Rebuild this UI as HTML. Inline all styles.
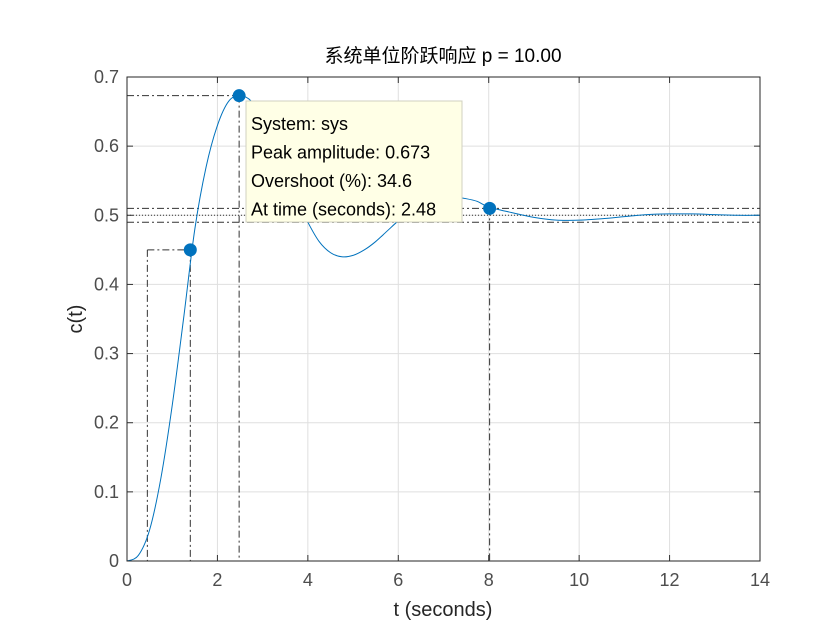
<!DOCTYPE html>
<html><head><meta charset="utf-8"><style>
body{margin:0;background:#fff;}
svg text{font-family:"Liberation Sans","Noto Sans CJK SC",sans-serif;}
</style></head><body>
<svg id="c" width="840" height="630"></svg>
<script>
const times=[0,0.25,0.5,0.75,1,1.25,1.5,1.75,2,2.25,2.5,2.75,3,3.25,3.5,3.75,4,4.25,4.5,4.75,5,5.25,5.5,5.75,6,6.25,6.5,6.75,7,7.25,7.5,7.75,8,8.5,9,9.5,10,10.5,11,11.5,12,12.5,13,13.5,14];
const values=[0,0.008,0.045,0.12,0.225,0.35,0.48,0.57,0.63,0.665,0.673,0.665,0.64,0.605,0.565,0.525,0.49,0.462,0.446,0.44,0.442,0.45,0.462,0.477,0.492,0.505,0.515,0.522,0.525,0.526,0.524,0.52,0.512,0.504,0.497,0.493,0.493,0.495,0.498,0.501,0.502,0.502,0.501,0.5,0.5];
const xTicks=[0,2,4,6,8,10,12,14];
const yTicks=[0,0.1,0.2,0.3,0.4,0.5,0.6,0.7];
const peak=[2.48,0.673];
const rise=[[0.45,0.45],[1.4,0.45]];
const settle=[8.02,0.51];
const finalVal=0.5;
const L=127,R=760,T=77,B=561;
const X=t=>L+(t/14)*(R-L), Y=v=>B-(v/0.7)*(B-T);
const svg=document.getElementById('c');
const NS='http://www.w3.org/2000/svg';
function mk(tag,a,txt){const e=document.createElementNS(NS,tag);for(const k in a)e.setAttribute(k,a[k]);if(txt!=null)e.textContent=txt;svg.appendChild(e);return e;}
let e;
e=mk('rect',{x:L,y:T,width:R-L,height:B-T,fill:'#fff',stroke:'none'});


xTicks.forEach(t=>{
 e=mk('line',{x1:X(t),x2:X(t),y1:T,y2:B,stroke:'#dfdfdf'});
 
 
 e=mk('text',{x:X(t),y:B+25,'text-anchor':'middle','font-size':18,fill:'#4d4d4d'},String(t));
 
 
 mk('line',{x1:X(t),x2:X(t),y1:B,y2:B-6,stroke:'#333'});mk('line',{x1:X(t),x2:X(t),y1:T,y2:T+6,stroke:'#333'});
});
yTicks.forEach(v=>{
 e=mk('line',{x1:L,x2:R,y1:Y(v),y2:Y(v),stroke:'#dfdfdf'});
 
 
 e=mk('text',{x:L-8,y:Y(v)+6,'text-anchor':'end','font-size':18,fill:'#4d4d4d'},String(v));
 
 
 mk('line',{x1:L,x2:L+6,y1:Y(v),y2:Y(v),stroke:'#333'});mk('line',{x1:R,x2:R-6,y1:Y(v),y2:Y(v),stroke:'#333'});
});
const dd={stroke:'#333','stroke-dasharray':'7,3,2,3','stroke-width':1,fill:'none'};
function ref(a,name){e=mk('line',Object.assign({},dd,a));}
ref({x1:L,x2:R,y1:Y(0.51),y2:Y(0.51)},'settle-upper-line');
ref({x1:L,x2:R,y1:Y(0.49),y2:Y(0.49)},'settle-lower-line');
e=mk('line',{x1:L,x2:R,y1:Y(finalVal),y2:Y(finalVal),stroke:'#333','stroke-dasharray':'1,2'});


ref({x1:L,x2:X(peak[0]),y1:Y(peak[1]),y2:Y(peak[1])},'peak-h-line');
ref({x1:X(peak[0]),x2:X(peak[0]),y1:Y(peak[1]),y2:B},'peak-v-line');
ref({x1:X(rise[0][0]),x2:X(rise[1][0]),y1:Y(rise[1][1]),y2:Y(rise[1][1])},'rise-h-line');
ref({x1:X(rise[0][0]),x2:X(rise[0][0]),y1:Y(rise[0][1]),y2:B},'rise-start-line');
ref({x1:X(rise[1][0]),x2:X(rise[1][0]),y1:Y(rise[1][1]),y2:B},'rise-end-line');
ref({x1:X(settle[0]),x2:X(settle[0]),y1:Y(settle[1]),y2:B},'settle-v-line');
const P=times.map((t,i)=>[X(t),Y(values[i])]);
let d='M'+P[0][0]+','+P[0][1];
for(let i=0;i<P.length-1;i++){const p0=P[Math.max(0,i-1)],p1=P[i],p2=P[i+1],p3=P[Math.min(P.length-1,i+2)];
 d+=` C${p1[0]+(p2[0]-p0[0])/6},${p1[1]+(p2[1]-p0[1])/6} ${p2[0]-(p3[0]-p1[0])/6},${p2[1]-(p3[1]-p1[1])/6} ${p2[0]},${p2[1]}`;}
e=mk('path',{d:d,fill:'none',stroke:'#0072bd','stroke-width':1});


[[peak[0],peak[1]],rise[1],settle].forEach(p=>{
 e=mk('circle',{cx:X(p[0]),cy:Y(p[1]),r:6.5,fill:'#0072bd'});
 
 
});
e=mk('rect',{x:L,y:T,width:R-L,height:B-T,fill:'none',stroke:'#262626'});


e=mk('rect',{x:246,y:101,width:216,height:121,fill:'#ffffe6',stroke:'#d0d0c0'});


['System: sys','Peak amplitude: 0.673','Overshoot (%): 34.6','At time (seconds): 2.48'].forEach((s,i)=>{
 e=mk('text',{x:251,y:130+i*28.5,'font-size':18,fill:'#000'},s);
 
 
});
e=mk('text',{x:443,y:62,'text-anchor':'middle','font-size':19,fill:'#000'},'系统单位阶跃响应 p = 10.00');


e=mk('text',{x:443,y:616,'text-anchor':'middle','font-size':20,fill:'#262626'},'t (seconds)');


e=mk('text',{x:0,y:0,'text-anchor':'middle','font-size':20,fill:'#262626',transform:'translate(82,319) rotate(-90)'},'c(t)');


</script>
</body></html>
